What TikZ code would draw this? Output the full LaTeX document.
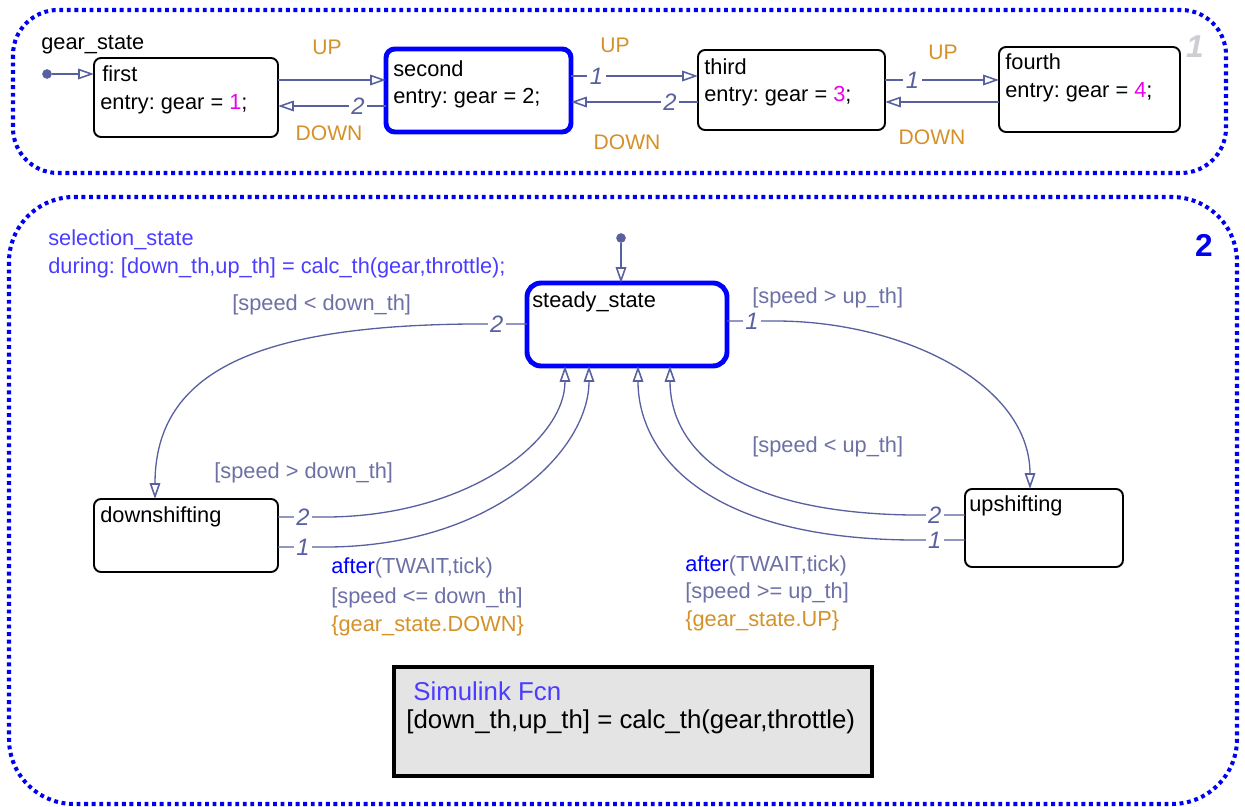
\documentclass[tikz,border=0pt]{standalone}
\usepackage{fontspec}
\setmainfont{Liberation Sans}
\usetikzlibrary{arrows.meta,fit,calc}
\frenchspacing

\definecolor{chartblue}{RGB}{0,0,240}
\definecolor{statblue}{RGB}{0,0,255}
\definecolor{trline}{RGB}{88,96,160}
\definecolor{guard}{RGB}{108,112,165}
\definecolor{evt}{RGB}{212,145,40}
\definecolor{gearnum}{RGB}{235,0,235}
\definecolor{labelblue}{RGB}{75,60,255}
\definecolor{fcnfill}{RGB}{228,228,228}
\definecolor{chartgray}{RGB}{205,205,210}

\tikzset{
    chart/.style={draw=chartblue, line width=2.3pt, dash pattern=on 2.2pt off 2.1pt, rounded corners=#1},
    state/.style={draw=black, line width=1.1pt, rounded corners=4pt, inner sep=0pt, outer sep=0pt},
    active/.style={draw=statblue, line width=2.8pt, rounded corners=5pt, inner sep=0pt, outer sep=0pt},
    txt/.style={anchor=base west, inner sep=0pt, font=\fontsize{12.4}{15}\selectfont},
    guardtxt/.style={txt, text=guard},
    event/.style={inner sep=0pt, font=\fontsize{12}{14}\selectfont, text=evt},
    trans/.style={draw=trline, line width=0.75pt, -{Triangle[open,length=9pt,width=6pt,line width=0.9pt]}},
    tnum/.style={fill=white, inner sep=1.5pt, font=\fontsize{13.5}{15}\selectfont\itshape, text=trline},
    init/.style={circle, fill=trline, inner sep=0pt, minimum size=5.5pt},
}

\begin{document}
\begin{tikzpicture}[x=0.02cm, y=-0.02cm]
    \useasboundingbox (0,0) rectangle (1245,807);
    \draw[chart=0.9cm] (13,10) rectangle (1226,173);
    \draw[chart=1.3cm] (9,197) rectangle (1237,804);

    \node[txt] (gear_lbl) at (41,50) {gear\_state};
    \node[font=\fontsize{18}{18}\selectfont\bfseries\itshape, text=chartgray] (gear_num) at (1195,47) {1};

    \node[state, fit={(94,58) (278,137)}] (first) {};
    \node[active, fit={(386,49) (571,132)}] (second) {};
    \node[state, fit={(698,50) (885,130)}] (third) {};
    \node[state, fit={(999,47) (1180,132)}] (fourth) {};

    \node[txt] (first_name) at (102,82) {first};
    \node[txt] (first_entry) at (100,110) {entry: gear = \textcolor{gearnum}{1};};
    \node[txt] (second_name) at (393,77) {second};
    \node[txt] (second_entry) at (393,104) {entry: gear = 2;};
    \node[txt] (third_name) at (704,75) {third};
    \node[txt] (third_entry) at (704,102) {entry: gear = \textcolor{gearnum}{3};};
    \node[txt] (fourth_name) at (1005,70) {fourth};
    \node[txt] (fourth_entry) at (1005,98) {entry: gear = \textcolor{gearnum}{4};};

    \node[init] (gear_init) at (47,74) {};
    \draw[trans] (gear_init) -- (first.west |- gear_init);

    \draw[trans] (first.east |- 0,80) -- (second.west |- 0,80);
    \draw[trans] (second.west |- 0,106) -- node[tnum, pos=0.26] (n_second_first) {2} (first.east |- 0,106);
    \draw[trans] (second.east |- 0,76) -- node[tnum, pos=0.2] (n_second_third) {1} (third.west |- 0,76);
    \draw[trans] (third.west |- 0,102) -- node[tnum, pos=0.22] (n_third_second) {2} (second.east |- 0,102);
    \draw[trans] (third.east |- 0,80) -- node[tnum, pos=0.24] (n_third_fourth) {1} (fourth.west |- 0,80);
    \draw[trans] (fourth.west |- 0,102) -- (third.east |- 0,102);

    \foreach \x/\y/\ev in {327/47/UP, 329/133/DOWN, 615/45/UP, 627/142/DOWN, 943/52/UP, 932/137/DOWN}
        \node[event] (ev_\x) at (\x,\y) {\ev};

    \node[txt, text=labelblue] (sel_name) at (48,246) {selection\_state};
    \node[txt, text=labelblue] (sel_during) at (48,274) {during: [down\_th,up\_th] = calc\_th(gear,throttle);};
    \node[font=\fontsize{18}{18}\selectfont\bfseries, text=chartblue] (sel_num) at (1204,245) {2};

    \node[active, rounded corners=8pt, fit={(527,283) (727,366)}] (steady) {};
    \node[state, fit={(94,499) (278,572)}] (down_shift) {};
    \node[state, fit={(965,489) (1123,567)}] (up_shift) {};

    \node[txt] (steady_name) at (532,308) {steady\_state};
    \node[txt] (down_name) at (100,523) {downshifting};
    \node[txt] (up_name) at (969,512) {upshifting};

    \node[init] (sel_init) at (621,238) {};
    \draw[trans] (sel_init) -- (steady.north -| sel_init);

    \draw[trans] (steady.west |- 0,324) -- node[tnum, pos=0.53] (n_steady_down) {2} (470,324)
        .. controls (260,326) and (155,370) .. (down_shift.north -| 155,0);
    \draw[trans] (steady.east |- 0,321) -- node[tnum, pos=0.52] (n_steady_up) {1} (775,321)
        .. controls (905,321) and (1030,385) .. (up_shift.north -| 1030,0);
    \draw[trans] (down_shift.east |- 0,517) -- node[tnum, pos=0.48] (n_down_two) {2} (330,517)
        .. controls (470,515) and (565,440) .. (steady.south -| 565,0);
    \draw[trans] (down_shift.east |- 0,547) -- node[tnum, pos=0.48] (n_down_one) {1} (330,547)
        .. controls (495,545) and (589,450) .. (steady.south -| 589,0);
    \draw[trans] (up_shift.west |- 0,515) -- node[tnum, pos=0.55] (n_up_two) {2} (910,515)
        .. controls (720,512) and (670,440) .. (steady.south -| 670,0);
    \draw[trans] (up_shift.west |- 0,540) -- node[tnum, pos=0.55] (n_up_one) {1} (910,540)
        .. controls (700,538) and (638,450) .. (steady.south -| 638,0);

    \node[guardtxt] (g_steady_down) at (232,311) {[speed < down\_th]};
    \node[guardtxt] (g_steady_up) at (752,304) {[speed > up\_th]};
    \node[guardtxt] (g_down_two) at (214,479) {[speed > down\_th]};
    \node[guardtxt] (g_up_two) at (752,453) {[speed < up\_th]};
    \node[guardtxt] (g_down_after) at (331,574) {\textcolor{statblue}{after}(TWAIT,tick)};
    \node[guardtxt] (g_down_cond) at (331,603) {[speed <= down\_th]};
    \node[guardtxt, text=evt] (g_down_act) at (331,631) {\{gear\_state.DOWN\}};
    \node[guardtxt] (g_up_after) at (685,572) {\textcolor{statblue}{after}(TWAIT,tick)};
    \node[guardtxt] (g_up_cond) at (685,599) {[speed >= up\_th]};
    \node[guardtxt, text=evt] (g_up_act) at (685,626) {\{gear\_state.UP\}};

    \node[draw=black, line width=2.8pt, fill=fcnfill, inner sep=0pt, outer sep=0pt, fit={(394,667) (872,776)}] (sim_fcn) {};
    \node[txt, font=\fontsize{14.7}{17}\selectfont, text=labelblue] (fcn_title) at (413,700) {Simulink Fcn};
    \node[txt, font=\fontsize{14.7}{17}\selectfont] (fcn_proto) at (406,728) {[down\_th,up\_th] = calc\_th(gear,throttle)};
\end{tikzpicture}
\end{document}
